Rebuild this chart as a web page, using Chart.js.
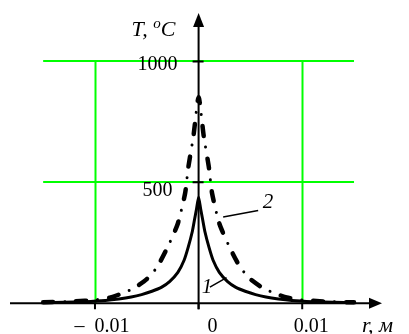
<!DOCTYPE html>
<html>
<head>
<meta charset="utf-8">
<script src="https://cdn.jsdelivr.net/npm/chart.js@4/dist/chart.umd.min.js"></script>
<style>
  html, body { margin: 0; padding: 0; background: #fff; }
  canvas { display: block; }
</style>
</head>
<body>
<canvas id="c" width="409" height="334"></canvas>
<script>
// ---- data ----
const r1 = [-0.015, -0.013, -0.011, -0.009, -0.0077, -0.0065, -0.0055, -0.0045, -0.0036, -0.0028, -0.002, -0.0014, -0.001, -0.0006, -0.0004, -0.0002, 0,
            0.0002, 0.0004, 0.0006, 0.001, 0.0014, 0.002, 0.0028, 0.0036, 0.0045, 0.0055, 0.0065, 0.0077, 0.009, 0.011, 0.013, 0.015];
const T1 = [2, 4, 7, 12, 18, 26, 36, 50, 66, 90, 128, 178, 232, 298, 344, 390, 438,
            390, 344, 298, 232, 178, 128, 90, 66, 50, 36, 26, 18, 12, 7, 4, 2];

const r2 = [-0.015, -0.012, -0.01, -0.0085, -0.0074, -0.0063, -0.005, -0.004, -0.0029, -0.002, -0.0013, -0.001, -0.0005, 0,
            0.0005, 0.001, 0.0013, 0.002, 0.0029, 0.004, 0.005, 0.0063, 0.0074, 0.0085, 0.01, 0.012, 0.015];
const T2 = [4, 8, 14, 24, 41, 61, 100, 150, 240, 330, 455, 560, 690, 852,
            690, 560, 455, 330, 240, 150, 100, 61, 41, 24, 14, 8, 4];

const xTickValues = [-0.01, 0, 0.01];
const xTickLabels = ['\u2013  0.01', '0', '0.01'];
const yTickValues = [500, 1000];
const yTickLabels = ['500', '1000'];
const gridX = [-0.015, 0.015];   // extent of green horizontal lines
const gridY = [0, 1000];         // extent of green vertical lines
const seriesNames = ['1', '2'];

const pts = (xs, ys) => xs.map((x, i) => ({x: x, y: ys[i]}));

const axesPlugin = {
  id: 'axesPlugin',
  beforeDatasetsDraw(chart) {
    const {ctx, scales: {x, y}} = chart;
    ctx.save();
    ctx.strokeStyle = '#00ff00';
    ctx.lineWidth = 2;
    ctx.beginPath();
    yTickValues.forEach(v => {
      const py = Math.round(y.getPixelForValue(v));
      ctx.moveTo(x.getPixelForValue(gridX[0]), py);
      ctx.lineTo(x.getPixelForValue(gridX[1]), py);
    });
    xTickValues.forEach(v => {
      if (v === 0) return;
      const px = Math.round(x.getPixelForValue(v)) + 0.5;
      ctx.moveTo(px, y.getPixelForValue(gridY[0]));
      ctx.lineTo(px, y.getPixelForValue(gridY[1]));
    });
    ctx.stroke();
    ctx.restore();
  },
  afterDatasetsDraw(chart) {
    const {ctx, chartArea, scales: {x, y}} = chart;
    const x0 = x.getPixelForValue(0);
    const y0 = y.getPixelForValue(0);
    ctx.save();
    ctx.strokeStyle = '#000';
    ctx.fillStyle = '#000';
    ctx.lineWidth = 2;
    // x axis
    ctx.beginPath();
    ctx.moveTo(chartArea.left, y0);
    ctx.lineTo(chartArea.right - 10, y0);
    ctx.stroke();
    ctx.beginPath();
    ctx.moveTo(chartArea.right, y0);
    ctx.lineTo(chartArea.right - 13, y0 - 5.5);
    ctx.lineTo(chartArea.right - 13, y0 + 5.5);
    ctx.closePath();
    ctx.fill();
    // y axis
    ctx.beginPath();
    ctx.moveTo(x0, y0 + 6);
    ctx.lineTo(x0, chartArea.top + 10);
    ctx.stroke();
    ctx.beginPath();
    ctx.moveTo(x0, chartArea.top);
    ctx.lineTo(x0 - 5.5, chartArea.top + 14);
    ctx.lineTo(x0 + 5.5, chartArea.top + 14);
    ctx.closePath();
    ctx.fill();
    // ticks
    ctx.beginPath();
    xTickValues.forEach(v => {
      const px = x.getPixelForValue(v);
      ctx.moveTo(px, y0);
      ctx.lineTo(px, y0 + 6);
    });
    yTickValues.forEach(v => {
      const py = y.getPixelForValue(v);
      ctx.moveTo(x0 - 6, py);
      ctx.lineTo(x0 + 5, py);
    });
    ctx.stroke();

    // tick labels
    ctx.font = '20px "Liberation Serif", "Times New Roman", serif';
    ctx.textBaseline = 'alphabetic';
    ctx.textAlign = 'right';
    const yOff = [14, 9];
    const yRight = [-26, -21];
    yTickValues.forEach((v, i) => {
      ctx.fillText(yTickLabels[i], x0 + yRight[i], y.getPixelForValue(v) + yOff[i]);
    });
    ctx.textAlign = 'center';
    const xOff = [7, 14, 9];
    xTickValues.forEach((v, i) => {
      ctx.fillText(xTickLabels[i], x.getPixelForValue(v) + xOff[i], y0 + 29);
    });

    // axis titles
    ctx.textAlign = 'left';
    ctx.font = 'italic 22px "Liberation Serif", "Times New Roman", serif';
    let tx = x0 - 67, ty = chartArea.top + 23;
    ctx.fillText('T, ', tx, ty);
    tx += ctx.measureText('T, ').width;
    ctx.font = 'italic 15px "Liberation Serif", "Times New Roman", serif';
    ctx.fillText('o', tx, ty - 8);
    tx += ctx.measureText('o').width;
    ctx.font = 'italic 22px "Liberation Serif", "Times New Roman", serif';
    ctx.fillText('C', tx, ty);

    ctx.fillText('r, \u043c', chartArea.right - 20, y0 + 29);

    // curve labels with leader lines
    ctx.lineWidth = 1.5;
    ctx.beginPath();
    ctx.moveTo(x.getPixelForValue(0.00237), y.getPixelForValue(357));
    ctx.lineTo(x.getPixelForValue(0.00575), y.getPixelForValue(384));
    ctx.moveTo(x.getPixelForValue(0.00109), y.getPixelForValue(67));
    ctx.lineTo(x.getPixelForValue(0.0027), y.getPixelForValue(106));
    ctx.stroke();
    ctx.font = 'italic 21px "Liberation Serif", "Times New Roman", serif';
    ctx.fillText(seriesNames[1], x.getPixelForValue(0.0062), y.getPixelForValue(393));
    ctx.fillText(seriesNames[0], x.getPixelForValue(0.0003), y.getPixelForValue(41));
    ctx.restore();
  }
};

new Chart(document.getElementById('c'), {
  type: 'scatter',
  data: {
    datasets: [
      { label: 'curve 2 dashes', data: pts(r2, T2), showLine: true, pointRadius: 0,
        borderColor: '#000', borderWidth: 4.5, borderCapStyle: 'round', borderJoinStyle: 'round',
        borderDash: [10, 23], tension: 0.2 },
      { label: 'curve 2 dots', data: pts(r2, T2), showLine: true, pointRadius: 0,
        borderColor: '#000', borderWidth: 3, borderCapStyle: 'round', borderJoinStyle: 'round',
        borderDash: [0.01, 32.99], borderDashOffset: 11.5, tension: 0.2 },
      { label: 'curve 1', data: pts(r1, T1), showLine: true, pointRadius: 0,
        borderColor: '#000', borderWidth: 3, borderJoinStyle: 'round', tension: 0.2 }
    ]
  },
  options: {
    responsive: false,
    animation: false,
    devicePixelRatio: 1,
    layout: { padding: { left: 10, right: 27, top: 13, bottom: 21 } },
    plugins: { legend: { display: false }, tooltip: { enabled: false } },
    scales: {
      x: { type: 'linear', min: -0.0182, max: 0.0177, display: false },
      y: { type: 'linear', min: -40, max: 1200, display: false }
    },
    clip: false
  },
  plugins: [axesPlugin]
});
</script>
</body>
</html>
